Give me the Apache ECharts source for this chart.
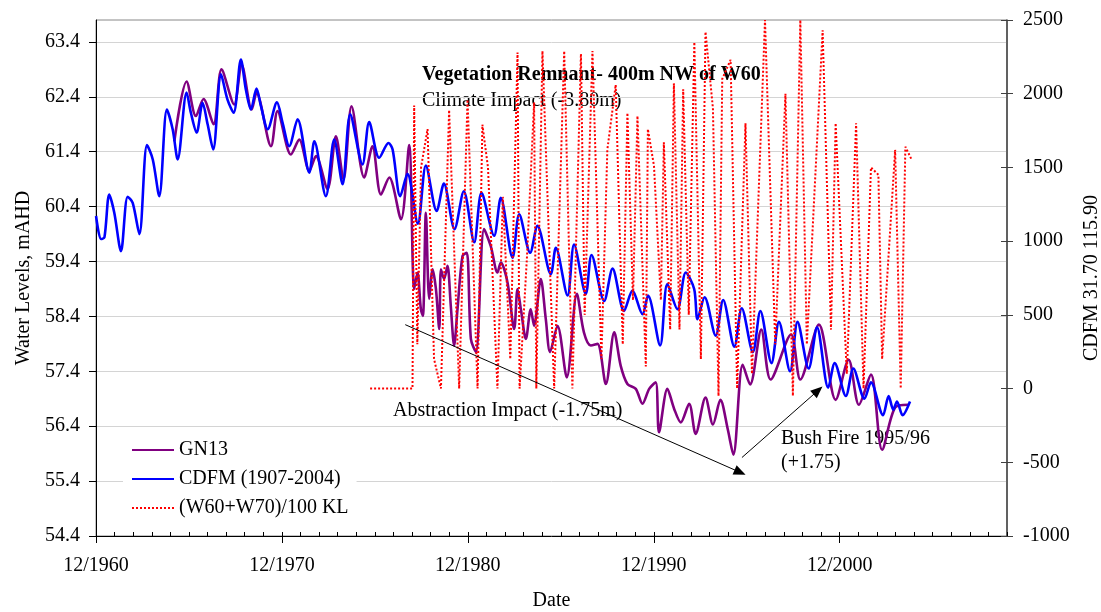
<!DOCTYPE html>
<html>
<head>
<meta charset="utf-8">
<title>Vegetation Remnant - 400m NW of W60</title>
<script src="https://cdn.jsdelivr.net/npm/echarts@6.0.0/dist/echarts.min.js"></script>
<style>
  html, body { margin: 0; padding: 0; background: #fff; }
  #chart { width: 1101px; height: 612px; }
</style>
</head>
<body>
<div id="chart"></div>
<script>
// times are decimal years (12/1960 = 1960.917)
const xTickLabels = ['12/1960', '12/1970', '12/1980', '12/1990', '12/2000']
const leftTicks = [54.4, 55.4, 56.4, 57.4, 58.4, 59.4, 60.4, 61.4, 62.4, 63.4]

const cdfmYears = [
  1960.92, 1961.19, 1961.37, 1961.63, 1961.90, 1962.26, 1962.62, 1962.89, 1963.25, 1963.66,
  1963.97, 1964.32, 1964.73, 1965.04, 1965.31, 1965.79, 1966.02, 1966.33, 1966.65, 1966.92,
  1967.22, 1967.64, 1967.99, 1968.32, 1968.71, 1968.98, 1969.25, 1969.55, 1969.79, 1970.15,
  1970.65, 1970.95, 1971.31, 1971.76, 1972.39, 1972.66, 1973.28, 1973.73, 1974.18, 1974.59,
  1975.25, 1975.61, 1976.15, 1976.65, 1976.87, 1977.28, 1977.67, 1978.23, 1978.66, 1979.24,
  1979.63, 1980.20, 1980.70, 1981.26, 1981.65, 1982.33, 1982.69, 1983.32, 1983.68, 1984.27,
  1984.66, 1985.38, 1985.65, 1986.28, 1986.63, 1987.26, 1987.57, 1988.25, 1988.70, 1989.32,
  1989.77, 1990.31, 1990.61, 1991.26, 1991.65, 1992.19, 1992.64, 1993.09, 1993.27, 1993.65,
  1994.25, 1994.65, 1995.25, 1995.65, 1996.25, 1996.65, 1997.25, 1997.65, 1998.25, 1998.65,
  1999.25, 1999.70, 2000.30, 2000.65, 2001.25, 2001.65, 2002.25, 2002.60, 2003.25, 2003.55,
  2003.80, 2004.00, 2004.30, 2004.70
]
const cdfmLevels = [
  60.23, 59.81, 59.84, 60.62, 60.29, 59.59, 60.58, 60.47, 59.90, 61.52,
  61.26, 60.59, 62.17, 61.81, 61.26, 62.48, 62.11, 61.75, 62.29, 61.90,
  61.44, 62.81, 62.35, 62.11, 63.08, 62.53, 62.17, 62.55, 62.23, 61.81,
  62.30, 61.93, 61.50, 61.99, 61.02, 61.59, 60.59, 61.62, 60.81, 62.08,
  61.17, 61.94, 61.29, 61.56, 61.44, 60.59, 61.00, 60.09, 61.15, 60.32,
  60.82, 59.99, 60.68, 59.75, 60.65, 59.87, 60.56, 59.47, 60.26, 59.56,
  60.05, 59.17, 59.65, 58.78, 59.71, 58.81, 59.52, 58.68, 59.27, 58.50,
  58.87, 58.44, 58.78, 57.87, 58.99, 58.53, 59.20, 58.90, 58.35, 58.75,
  58.05, 58.70, 57.85, 58.55, 57.75, 58.50, 57.55, 58.30, 57.40, 58.30,
  57.45, 58.20, 57.10, 57.55, 56.95, 57.45, 56.90, 57.20, 56.60, 56.95,
  56.70, 56.85, 56.60, 56.85
]

const gn13Years = [
  1965.13, 1965.79, 1966.29, 1966.70, 1967.24, 1967.67, 1968.35, 1968.75, 1969.29, 1969.55,
  1970.33, 1970.68, 1971.40, 1971.85, 1972.39, 1972.75, 1973.37, 1973.82, 1974.23, 1974.66,
  1975.34, 1975.79, 1976.24, 1976.69, 1977.32, 1977.76, 1978.03, 1978.21, 1978.39, 1978.50,
  1978.66, 1978.84, 1979.02, 1979.20, 1979.38, 1979.47, 1979.64, 1979.82, 1980.00, 1980.18,
  1980.36, 1980.63, 1980.86, 1981.08, 1981.35, 1981.79, 1982.15, 1982.51, 1982.69, 1983.05,
  1983.41, 1983.59, 1983.77, 1984.04, 1984.30, 1984.48, 1984.84, 1985.11, 1985.34, 1985.74,
  1986.24, 1986.78, 1987.16, 1987.53, 1987.89, 1988.34, 1988.79, 1989.14, 1989.50, 1989.95,
  1990.31, 1990.67, 1991.02, 1991.20, 1991.65, 1992.01, 1992.37, 1992.82, 1993.17, 1993.70,
  1994.10, 1994.50, 1994.90, 1995.20, 1995.70, 1996.10, 1996.70, 1997.20, 1998.30, 1998.80,
  1999.80, 2000.70, 2001.40, 2001.95, 2002.60, 2003.20, 2003.90, 2004.60
]
const gn13Levels = [
  61.59, 62.68, 62.05, 62.36, 61.90, 62.90, 62.26, 62.99, 62.17, 62.47,
  61.50, 62.14, 61.35, 61.62, 61.05, 61.32, 60.72, 61.68, 60.90, 62.23,
  60.93, 61.50, 60.62, 60.93, 60.17, 61.52, 58.90, 59.20, 58.53, 58.41,
  60.29, 58.72, 59.26, 58.90, 58.17, 59.26, 59.08, 59.32, 58.59, 57.87,
  58.53, 59.50, 59.56, 57.99, 57.75, 59.99, 59.68, 59.20, 59.38, 59.02,
  58.17, 58.90, 58.53, 57.99, 58.53, 58.23, 59.08, 58.35, 57.75, 58.23,
  57.29, 58.81, 58.11, 57.87, 57.90, 57.17, 58.11, 57.50, 57.17, 57.08,
  56.81, 57.08, 57.20, 56.29, 57.08, 56.72, 56.47, 56.81, 56.26, 56.92,
  56.43, 56.88, 56.34, 55.88, 57.52, 57.16, 58.16, 57.25, 58.07, 57.25,
  58.25, 56.88, 57.61, 56.79, 57.34, 55.97, 56.74, 56.79
]

// (W60+W70)/100 KL, right axis
const pumpYears = [
  1975.66, 1977.94, 1978.03, 1978.20, 1978.40, 1978.75, 1979.10, 1979.47, 1979.91, 1980.45,
  1980.90, 1981.44, 1981.70, 1982.00, 1982.51, 1982.80, 1983.20, 1983.59, 1983.70, 1984.10,
  1984.48, 1984.60, 1984.93, 1985.56, 1986.10, 1986.54, 1987.00, 1987.20, 1987.62, 1988.10,
  1988.42, 1988.87, 1989.25, 1989.50, 1989.80, 1990.04, 1990.49, 1990.60, 1990.93, 1991.30,
  1991.46, 1991.80, 1992.00, 1992.30, 1992.50, 1992.80, 1993.10, 1993.45, 1993.70, 1994.10,
  1994.40, 1994.60, 1995.05, 1995.40, 1995.85, 1996.20, 1996.90, 1997.45, 1998.00, 1998.40,
  1998.80, 1999.15, 2000.00, 2000.45, 2000.70, 2001.30, 2001.80, 2002.20, 2002.60, 2003.00,
  2003.20, 2003.90, 2004.20, 2004.45, 2004.80
]
const pumpFlows = [
  0, 0, 1920, 300, 1500, 1760, 200, 0, 1890, 0,
  1960, 0, 1790, 1500, 0, 1300, 200, 2280, 0, 900,
  1940, 0, 2290, 0, 2290, 0, 2270, 500, 2290, 200,
  1620, 2060, 300, 1870, 600, 1850, 150, 1760, 1510, 600,
  1670, 400, 2070, 400, 2030, 500, 2350, 200, 2420, 1900,
  -50, 2100, 2230, 0, 1800, 100, 2500, 300, 2000, -50,
  2500, 300, 2430, 400, 1800, 100, 1800, 0, 1500, 1450,
  200, 1620, 0, 1640, 1550
]

// annotation arrows, in data units (decimal year, mAHD)
const abstractionArrow = [[1977.55, 58.25], [1995.56, 55.56]]
const bushFireArrow = [[1995.66, 55.83], [1999.75, 57.05]]

const FONT = 'Liberation Serif'
const zip = (xs, ys) => xs.map((x, i) => [x, ys[i]])
const tickYears = xTickLabels.map((s) => Number(s.split('/')[1]) + 11 / 12)
const yearTicks = []
for (let y = 1960; y <= 2009; y++) yearTicks.push(y + 11 / 12)

const textStyle = { fontFamily: FONT, fontSize: 20, color: '#000' }

const chart = echarts.init(document.getElementById('chart'))

chart.setOption({
  animation: false,
  backgroundColor: '#fff',
  textStyle: { fontFamily: FONT },
  grid: {
    left: 96, right: 94, top: 20, bottom: 76,
    outerBoundsMode: 'none',
    containLabel: false,
    show: true, borderColor: '#888', borderWidth: 1
  },
  legend: {
    orient: 'vertical',
    left: 123,
    top: 436,
    padding: [4, 8, 6, 8],
    backgroundColor: '#fff',
    itemWidth: 42,
    itemHeight: 14,
    itemGap: 9,
    itemStyle: { opacity: 0 },
    textStyle: { ...textStyle },
    data: ['GN13', 'CDFM (1907-2004)', '(W60+W70)/100 KL']
  },
  xAxis: [
    {
      type: 'value',
      min: 1960 + 11 / 12,
      max: 2009 + 11 / 12,
      name: 'Date',
      nameLocation: 'middle',
      nameGap: 55,
      nameTextStyle: { ...textStyle },
      axisLine: { onZero: false, lineStyle: { color: '#000', width: 1 } },
      axisTick: { customValues: tickYears, length: 7, lineStyle: { color: '#000' } },
      axisLabel: {
        customValues: tickYears,
        margin: 20,
        ...textStyle,
        formatter: (v) => '12/' + Math.floor(v + 0.001)
      },
      splitLine: { show: false }
    },
    {
      type: 'value',
      min: 1960 + 11 / 12,
      max: 2009 + 11 / 12,
      position: 'bottom',
      axisLine: { show: false, onZero: false },
      axisTick: { customValues: yearTicks, inside: true, length: 4, lineStyle: { color: '#000' } },
      axisLabel: { show: false },
      splitLine: { show: false }
    }
  ],
  yAxis: [
    {
      type: 'value',
      position: 'left',
      min: 54.4,
      max: 63.8,
      name: 'Water Levels, mAHD',
      nameLocation: 'middle',
      nameRotate: 90,
      nameGap: 62,
      nameTextStyle: { ...textStyle },
      axisLine: { show: true, onZero: false, lineStyle: { color: '#000', width: 1 } },
      axisTick: { show: true, customValues: leftTicks, length: 7, lineStyle: { color: '#000' } },
      axisLabel: {
        customValues: leftTicks,
        margin: 16,
        ...textStyle,
        formatter: (v) => v.toFixed(1)
      },
      splitLine: { show: true, lineStyle: { color: '#d4d4d4', width: 1 } }
    },
    {
      type: 'value',
      position: 'right',
      min: -1000,
      max: 2500,
      interval: 500,
      name: 'CDFM 31.70 115.90',
      nameLocation: 'middle',
      nameRotate: 90,
      nameGap: 75,
      nameTextStyle: { ...textStyle },
      axisLine: { show: true, onZero: false, lineStyle: { color: '#404040', width: 1.5 } },
      axisTick: { show: true, length: 6, lineStyle: { color: '#404040' } },
      axisLabel: { margin: 16, ...textStyle, formatter: (v) => String(v) },
      splitLine: { show: false }
    },
    {
      type: 'value',
      position: 'right',
      min: -1000,
      max: 2500,
      interval: 500,
      axisLine: { show: false, onZero: false },
      axisTick: { show: true, inside: true, length: 6, lineStyle: { color: '#404040' } },
      axisLabel: { show: false },
      splitLine: { show: false }
    }
  ],
  series: [
    {
      name: 'GN13',
      type: 'line',
      yAxisIndex: 0,
      data: zip(gn13Years, gn13Levels),
      color: '#800080',
      symbol: 'none',
      smooth: 0.3,
      lineStyle: { width: 2.6 },
      markLine: {
        silent: true,
        symbol: ['none', 'triangle'],
        symbolSize: [10, 12],
        label: { show: false },
        lineStyle: { color: '#000', width: 1, type: 'solid' },
        data: [
          [{ coord: abstractionArrow[0] }, { coord: abstractionArrow[1] }],
          [{ coord: bushFireArrow[0] }, { coord: bushFireArrow[1] }]
        ]
      }
    },
    {
      name: 'CDFM (1907-2004)',
      type: 'line',
      yAxisIndex: 0,
      data: zip(cdfmYears, cdfmLevels),
      color: '#0000ff',
      symbol: 'none',
      smooth: 0.3,
      lineStyle: { width: 2.6 }
    },
    {
      name: '(W60+W70)/100 KL',
      type: 'line',
      yAxisIndex: 1,
      data: zip(pumpYears, pumpFlows),
      color: '#ff0000',
      symbol: 'none',
      lineStyle: { width: 2, type: 'dotted' }
    }
  ],
  graphic: [
    { type: 'text', left: 422, top: 65, style: { text: 'Vegetation Remnant- 400m NW of W60', ...textStyle, fill: '#000', fontWeight: 'bold' } },
    { type: 'text', left: 422, top: 91, style: { text: 'Climate Impact (-3.80m)', ...textStyle, fill: '#000' } },
    { type: 'text', left: 393, top: 401, style: { text: 'Abstraction Impact (-1.75m)', ...textStyle, fill: '#000' } },
    { type: 'text', left: 781, top: 429, style: { text: 'Bush Fire 1995/96', ...textStyle, fill: '#000' } },
    { type: 'text', left: 781, top: 453, style: { text: '(+1.75)', ...textStyle, fill: '#000' } }
  ]
})

window.addEventListener('resize', () => chart.resize())
</script>
</body>
</html>
